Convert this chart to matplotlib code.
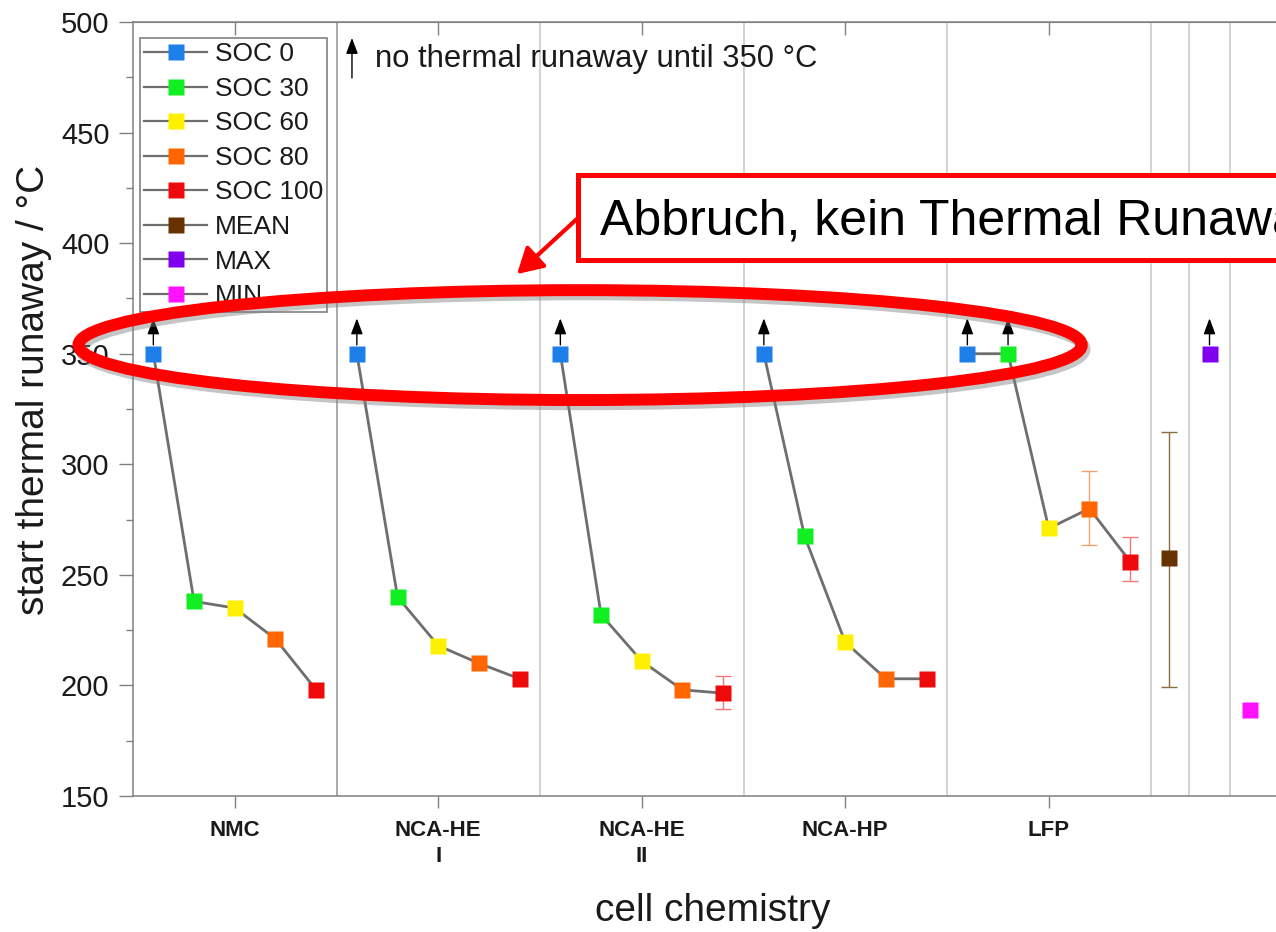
import matplotlib
matplotlib.use('Agg')
import matplotlib.pyplot as plt
import matplotlib.patheffects as pe
from matplotlib.lines import Line2D
from matplotlib.patches import Ellipse, Rectangle
import numpy as np

plt.rcParams['font.family'] = ['Liberation Sans', 'DejaVu Sans']

# data
chemistries = ['NMC', 'NCA-HE\nI', 'NCA-HE\nII', 'NCA-HP', 'LFP']
soc_labels = ['SOC 0', 'SOC 30', 'SOC 60', 'SOC 80', 'SOC 100']
soc_colors = ['#1f7fe8', '#11ee22', '#fff000', '#ff6600', '#ee0a0a']

nmc = [350, 238, 235, 221, 198]
nca_he_1 = [350, 240, 218, 210, 203]
nca_he_2 = [350, 232, 211, 198, 196.5]
nca_hp = [350, 267.5, 219.5, 203, 203]
lfp = [350, 350, 271, 280, 256]
start_tr = [nmc, nca_he_1, nca_he_2, nca_hp, lfp]

# 1 = no thermal runaway until 350 °C (arrow)
no_tr = [[1, 0, 0, 0, 0], [1, 0, 0, 0, 0], [1, 0, 0, 0, 0],
         [1, 0, 0, 0, 0], [1, 1, 0, 0, 0]]

# error bars (lower, upper)
err_lo = [[0, 0, 0, 0, 0], [0, 0, 0, 0, 0], [0, 0, 0, 0, 7.3],
          [0, 0, 0, 0, 0], [0, 0, 0, 16.7, 9]]
err_hi = [[0, 0, 0, 0, 0], [0, 0, 0, 0, 0], [0, 0, 0, 0, 7.6],
          [0, 0, 0, 0, 0], [0, 0, 0, 17, 11]]
err_colors = ['#f08a8a', '#f08a8a', '#f4a070', '#f4a070', '#f07878']

stat_labels = ['MEAN', 'MAX', 'MIN']
stat_colors = ['#663300', '#8000ee', '#ff10ff']
mean_val = 257.5
mean_err = (58, 57)
max_val = 350
min_val = 189

W, H = 1276, 932
fig = plt.figure(figsize=(W / 100, H / 100), dpi=100)
ax = fig.add_axes([133 / W, 136 / H, 5.7 * 203.5 / W, 774 / H])
ax.set_xlim(0, 5.7)
ax.set_ylim(150, 500)

gray = '#808080'
for s in ['left', 'bottom', 'top']:
    ax.spines[s].set_color(gray)
    ax.spines[s].set_linewidth(1.1)
ax.spines['right'].set_visible(False)

# group separators
for i, xv in enumerate([1, 2, 3, 4, 5, 5.19, 5.39]):
    ax.axvline(xv, color='#999999' if i == 0 else '#cccccc', lw=1.2, zorder=0)

ms = 11.5
arrow_style = '-|>,head_length=0.8,head_width=0.3'


def up_arrow(x, y0, y1):
    ax.annotate('', xy=(x, y1), xytext=(x, y0),
                arrowprops=dict(arrowstyle=arrow_style, color='black', lw=1,
                                mutation_scale=12, shrinkA=0, shrinkB=0), zorder=4)


for g, vals in enumerate(start_tr):
    xs = g + 0.1 + 0.2 * np.arange(len(vals))
    ax.plot(xs, vals, '-', color='#6e6e6e', lw=2, zorder=2)
    for i, v in enumerate(vals):
        if err_lo[g][i] or err_hi[g][i]:
            ax.errorbar(xs[i], v, yerr=[[err_lo[g][i]], [err_hi[g][i]]], fmt='none',
                        ecolor=err_colors[i], elinewidth=1,
                        capsize=5.5, capthick=1, zorder=2.5)
        ax.plot(xs[i], v, 's', color=soc_colors[i], ms=ms, mec='none', zorder=3)
        if no_tr[g][i]:
            up_arrow(xs[i], 354, 366)

# statistics columns
ax.errorbar(5.09, mean_val, yerr=[[mean_err[0]], [mean_err[1]]], fmt='none',
            ecolor='#8a6a40', elinewidth=1, capsize=5.5, capthick=1, zorder=2.5)
ax.plot(5.09, mean_val, 's', color=stat_colors[0], ms=ms, mec='none', zorder=3)
ax.plot(5.29, max_val, 's', color=stat_colors[1], ms=ms, mec='none', zorder=3)
up_arrow(5.29, 354, 366)
ax.plot(5.49, min_val, 's', color=stat_colors[2], ms=ms, mec='none', zorder=3)

# axes ticks
ax.set_yticks(np.arange(150, 501, 50))
ax.set_yticks(np.arange(175, 500, 50), minor=True)
ax.tick_params(axis='y', which='major', direction='out', length=10, width=1,
               color=gray, labelsize=21, labelcolor='#1a1a1a', pad=7)
ax.tick_params(axis='y', which='minor', direction='out', length=5, width=1, color=gray)
ax.set_xticks(np.arange(len(chemistries)) + 0.5)
ax.set_xticklabels(chemistries, fontsize=16, fontweight='bold', color='#1a1a1a')
for lbl in ax.get_xticklabels():
    lbl.set_linespacing(1.3)
ax.tick_params(axis='x', direction='out', length=8.5, width=1, color=gray, pad=9)

top = ax.secondary_xaxis('top')
top.set_xticks(np.arange(len(chemistries)) + 0.5)
top.tick_params(direction='in', length=9, width=1, color=gray, labeltop=False)
top.spines['top'].set_color(gray)

ax.set_xlabel('cell chemistry', fontsize=28, color='#1a1a1a')
ax.xaxis.set_label_coords(0.5, -0.125)
ax.set_ylabel('start thermal runaway / °C', fontsize=28, color='#1a1a1a')
ax.yaxis.set_label_coords(-0.07, 0.5245)

# legend
handles = []
for lab, c in zip(soc_labels + stat_labels, soc_colors + stat_colors):
    handles.append(Line2D([], [], color='#6e6e6e', lw=1.6, marker='s', ms=ms,
                          mfc=c, mec='none', label=lab))
leg = ax.legend(handles=handles, loc='upper left', bbox_to_anchor=(0.006, 0.979),
                borderaxespad=0, fontsize=19, frameon=True, fancybox=False,
                framealpha=1, edgecolor=gray, handlelength=2.4, handletextpad=0.3,
                labelspacing=0.4, borderpad=0.15)
leg.get_frame().set_linewidth(1.2)
for t in leg.get_texts():
    t.set_color('#1a1a1a')

up_arrow(1.076, 474.7, 492.8)
ax.text(1.189, 479.6, 'no thermal runaway until 350 °C', fontsize=22.3,
        va='baseline', color='#1a1a1a')

# red highlight
ell = Ellipse((2.197, 353.9), 4.93, 49.7, fill=False, ec='red', lw=8.6,
              clip_on=False, zorder=6)
ell.set_path_effects([pe.SimpleLineShadow(offset=(2, -3), shadow_color='gray', alpha=0.45),
                      pe.Normal()])
ax.add_patch(ell)
box = Rectangle((2.187, 392.4), 4.0, 38.4, fc='white', ec='red', lw=3.6,
                clip_on=False, zorder=6)
ax.add_patch(box)
ax.text(2.295, 403.7, 'Abbruch, kein Thermal Runaway', fontsize=36, va='baseline',
        color='black', zorder=7, clip_on=False)
ax.annotate('', xy=(1.887, 386.0), xytext=(2.187, 411.4),
            arrowprops=dict(arrowstyle='-|>,head_length=0.7,head_width=0.4',
                            color='red', lw=3, mutation_scale=22,
                            shrinkA=0, shrinkB=0), zorder=6, annotation_clip=False)

fig.savefig('out.png', dpi=100)
